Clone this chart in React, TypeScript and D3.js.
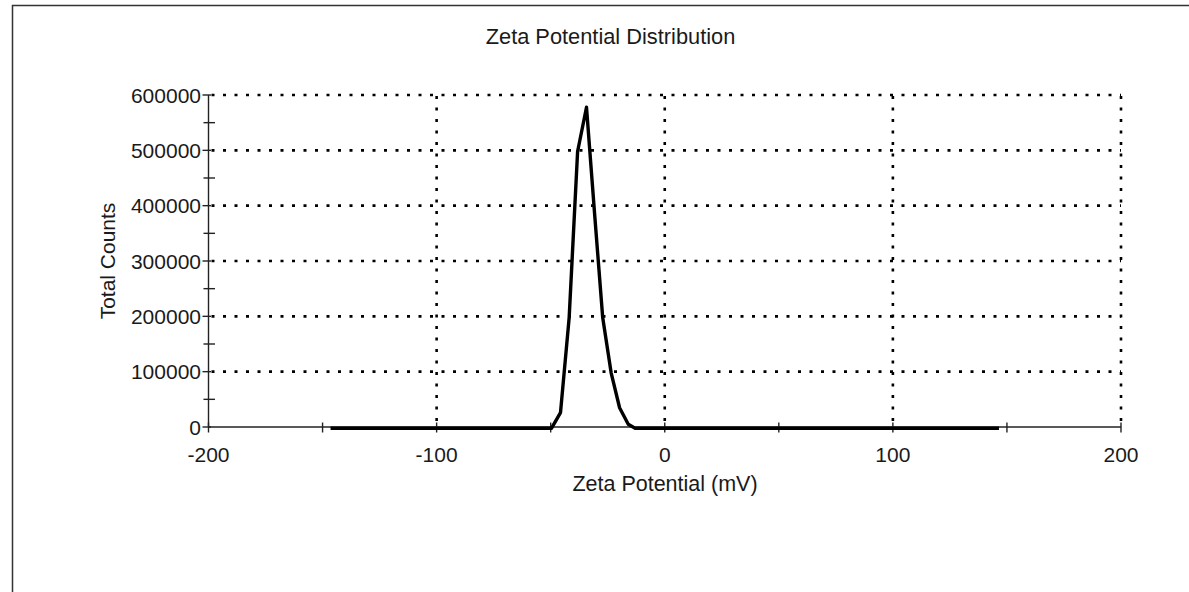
import { useEffect, useRef } from 'react';
import * as d3 from 'd3';

// values
const zetaMv = [-146.5, -49.6, -45.7, -41.9, -38.2, -34.3, -30.8, -27.2, -23.5, -19.8, -16.0, -13.0, 146.5];
const totalCounts = [0, 0, 28000, 200000, 500000, 580000, 390000, 200000, 100000, 37000, 7000, 0, 0];

const xMajorTicks = [-200, -100, 0, 100, 200];
const xMinorTicks = [-150, -50, 50, 150];
const yMajorTicks = [0, 100000, 200000, 300000, 400000, 500000, 600000];
const yMinorTicks = [50000, 150000, 250000, 350000, 450000, 550000];

const FONT = '"Liberation Sans", Arial, sans-serif';
const INK = '#1a1a1a';
const FS = 21;

const ZetaChart = () => {
  const svgRef = useRef<SVGSVGElement>(null);

  useEffect(() => {
    const width = 1189;
    const height = 592;
    const plot = { left: 208.5, right: 1121, top: 95, bottom: 427 };

    const svg = d3.select(svgRef.current);
    svg.selectAll('*').remove();
    svg.attr('width', width).attr('height', height);

    // page frame (only top + left edges are visible in the crop)
    svg.append('rect')
      .attr('x', 12.5).attr('y', 5.5)
      .attr('width', width + 20).attr('height', height + 20)
      .attr('fill', 'white')
      .attr('stroke', '#333').attr('stroke-width', 1.5);

    const x = d3.scaleLinear().domain([-200, 200]).range([plot.left, plot.right]);
    const y = d3.scaleLinear().domain([0, 600000]).range([plot.bottom, plot.top]);

    // dotted grid
    const dots = '3 8.5';
    svg.append('g').selectAll('line')
      .data(yMajorTicks.filter(d => d > 0))
      .join('line')
      .attr('x1', plot.left + 3).attr('x2', plot.right)
      .attr('y1', d => y(d)).attr('y2', d => y(d))
      .attr('stroke', '#000').attr('stroke-width', 2.6)
      .attr('stroke-dasharray', dots);

    svg.append('g').selectAll('line')
      .data(xMajorTicks.filter(d => d > -200))
      .join('line')
      .attr('x1', d => x(d)).attr('x2', d => x(d))
      .attr('y1', plot.bottom - 6).attr('y2', plot.top)
      .attr('stroke', '#000').attr('stroke-width', 2.6)
      .attr('stroke-dasharray', dots);

    // axes
    const axes = svg.append('g').attr('stroke', '#222').attr('stroke-width', 1.4);
    axes.append('line')
      .attr('x1', plot.left).attr('x2', plot.right)
      .attr('y1', plot.bottom).attr('y2', plot.bottom);
    axes.append('line')
      .attr('x1', plot.left).attr('x2', plot.left)
      .attr('y1', plot.bottom).attr('y2', plot.top);

    axes.selectAll('.xt')
      .data([...xMajorTicks, ...xMinorTicks])
      .join('line')
      .attr('x1', d => x(d)).attr('x2', d => x(d))
      .attr('y1', plot.bottom - 4.5).attr('y2', plot.bottom + 5.5);

    axes.selectAll('.ytM')
      .data(yMajorTicks)
      .join('line')
      .attr('x1', plot.left - 6).attr('x2', plot.left + 2.5)
      .attr('y1', d => y(d)).attr('y2', d => y(d));

    axes.selectAll('.ytm')
      .data(yMinorTicks)
      .join('line')
      .attr('x1', plot.left - 5).attr('x2', plot.left + 6.5)
      .attr('y1', d => y(d)).attr('y2', d => y(d));

    // tick labels
    svg.append('g').selectAll('text')
      .data(xMajorTicks)
      .join('text')
      .attr('x', d => x(d)).attr('y', 461.5)
      .attr('text-anchor', 'middle')
      .attr('font-family', FONT).attr('font-size', FS).attr('fill', INK)
      .text(d => String(d));

    svg.append('g').selectAll('text')
      .data(yMajorTicks)
      .join('text')
      .attr('x', plot.left - 7.5).attr('y', d => y(d) + 7.5)
      .attr('text-anchor', 'end')
      .attr('font-family', FONT).attr('font-size', FS).attr('fill', INK)
      .text(d => String(d));

    // distribution curve
    const pts = zetaMv.map((v, i) => [v, totalCounts[i]] as [number, number]);
    const line = d3.line<[number, number]>()
      .x(d => x(d[0]))
      .y(d => y(d[1]));

    svg.append('path')
      .datum(pts)
      .attr('fill', 'none')
      .attr('stroke', '#000')
      .attr('stroke-width', 3.4)
      .attr('stroke-linejoin', 'round')
      .attr('transform', 'translate(0,1.2)')
      .attr('d', line);

    // titles
    svg.append('text')
      .attr('x', 610.5).attr('y', 43.5)
      .attr('text-anchor', 'middle')
      .attr('font-family', FONT).attr('font-size', 21.8).attr('fill', INK)
      .text('Zeta Potential Distribution');

    svg.append('text')
      .attr('x', 665).attr('y', 491)
      .attr('text-anchor', 'middle')
      .attr('font-family', FONT).attr('font-size', 21.5).attr('fill', INK)
      .text('Zeta Potential (mV)');

    svg.append('text')
      .attr('transform', `translate(115, 261) rotate(-90)`)
      .attr('text-anchor', 'middle')
      .attr('font-family', FONT).attr('font-size', FS).attr('fill', INK)
      .text('Total Counts');
  }, []);

  return <svg ref={svgRef} style={{ display: 'block' }}></svg>;
};

export default function App() {
  return (
    <div style={{ position: 'fixed', left: 0, top: 0, width: 1189, height: 592, overflow: 'hidden', background: 'white' }}>
      <ZetaChart />
    </div>
  );
}
